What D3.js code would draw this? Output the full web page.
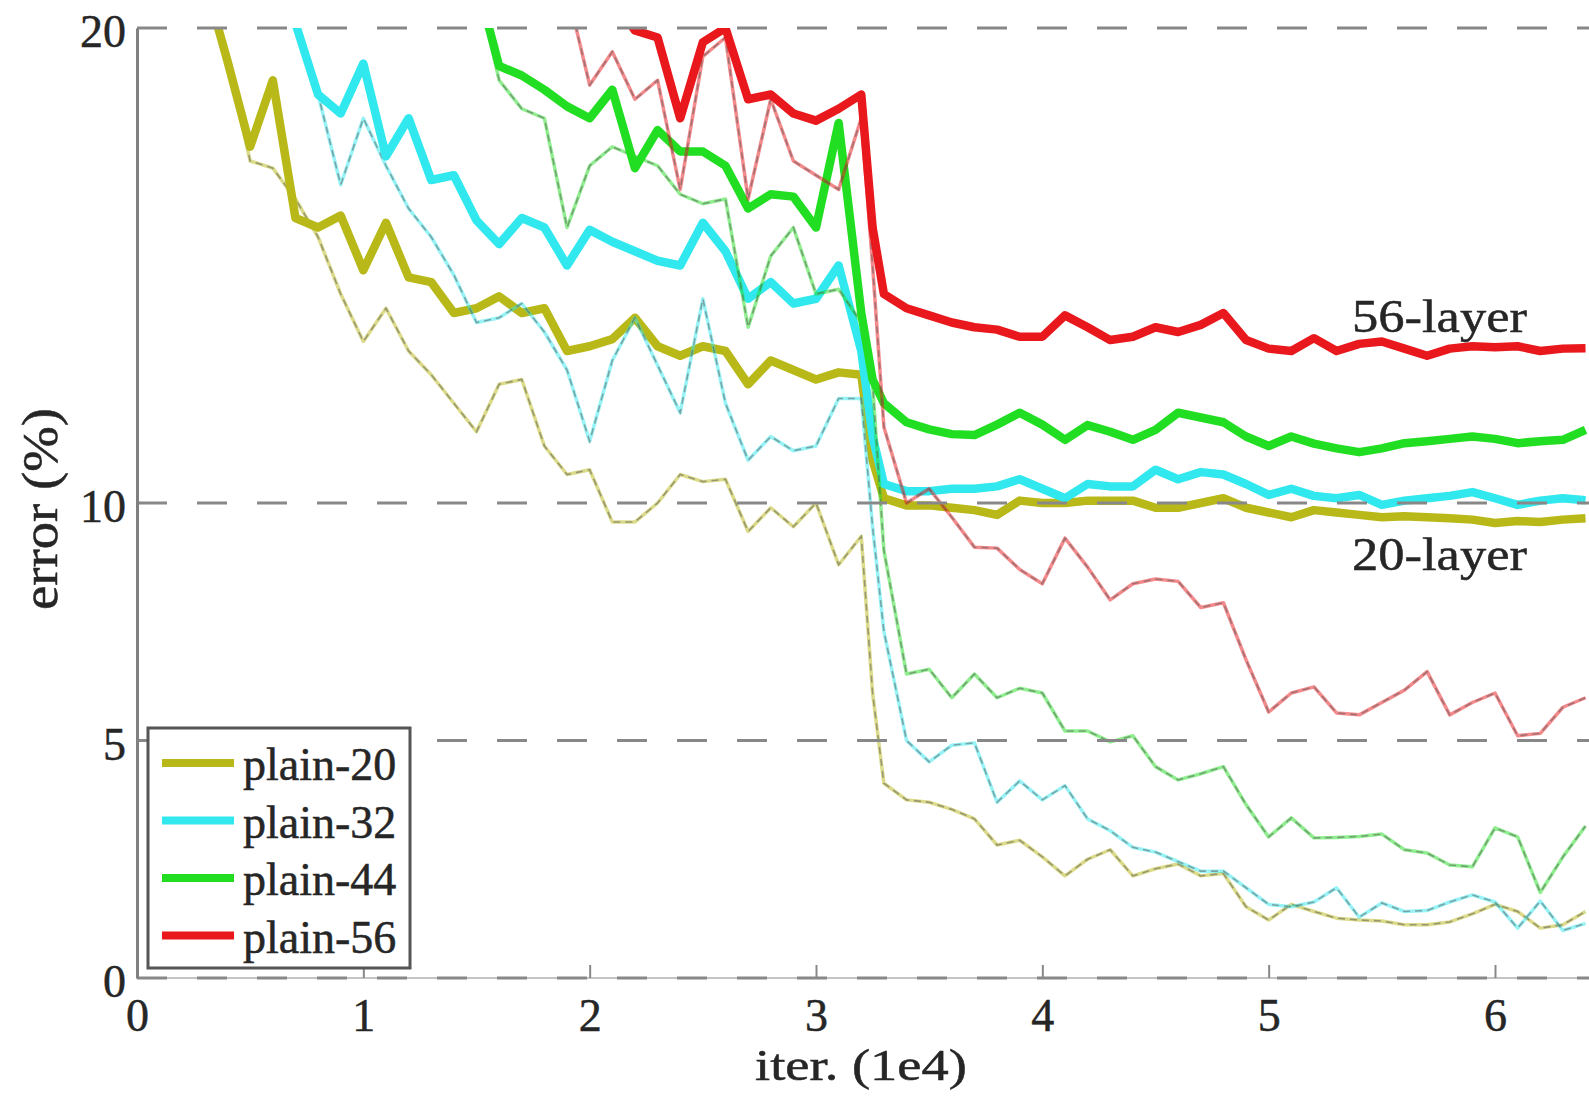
<!DOCTYPE html>
<html>
<head>
<meta charset="utf-8">
<script src="https://cdn.jsdelivr.net/npm/d3@7"></script>
<style>
  body { margin: 0; background: #fff; }
  text { font-family: "Liberation Serif", "Times New Roman", serif; fill: #262626; stroke: #262626; stroke-width: 0.5px; }
</style>
</head>
<body>
<div id="chart"></div>
<script>
// iterations, in units of 1e4
var iters = [
  0.3, 0.4, 0.5, 0.6, 0.7, 0.8, 0.9, 1.0, 1.1, 1.2,
  1.3, 1.4, 1.5, 1.6, 1.7, 1.8, 1.9, 2.0, 2.1, 2.2,
  2.3, 2.4, 2.5, 2.6, 2.7, 2.8, 2.9, 3.0, 3.1, 3.2,
  3.25,
  3.3, 3.4, 3.5, 3.6, 3.7, 3.8, 3.9, 4.0, 4.1, 4.2,
  4.3, 4.4, 4.5, 4.6, 4.7, 4.8, 4.9, 5.0, 5.1, 5.2,
  5.3, 5.4, 5.5, 5.6, 5.7, 5.8, 5.9, 6.0, 6.1, 6.2,
  6.3, 6.4
];

// bold lines: test error (%)
var plain20Test = [
  21.0, 19.3, 17.5, 18.9, 16.0, 15.8, 16.05, 14.9, 15.9, 14.75,
  14.65, 14.0, 14.1, 14.35, 14.0, 14.1, 13.2, 13.3, 13.45, 13.9,
  13.3, 13.1, 13.3, 13.2, 12.5, 13.0, 12.8, 12.6, 12.75, 12.7,
  10.9,
  10.1, 9.95, 9.95, 9.9, 9.85, 9.75, 10.05, 10.0, 10.0, 10.05,
  10.05, 10.05, 9.9, 9.9, 10.0, 10.1, 9.9, 9.8, 9.7, 9.85,
  9.8, 9.75, 9.7, 9.72, 9.7, 9.68, 9.65, 9.58, 9.62, 9.6,
  9.65, 9.68
];
var plain32Test = [
  null, null, null, null, 20.1, 18.6, 18.2, 19.25, 17.3, 18.1,
  16.8, 16.9, 15.95, 15.45, 16.0, 15.8, 15.0, 15.75, 15.5, 15.3,
  15.1, 15.0, 15.9, 15.3, 14.3, 14.65, 14.2, 14.3, 15.0, 13.2,
  11.4,
  10.4, 10.25, 10.25, 10.3, 10.3, 10.35, 10.5, 10.3, 10.1, 10.4,
  10.35, 10.35, 10.7, 10.5, 10.65, 10.6, 10.4, 10.17, 10.3, 10.15,
  10.1, 10.17, 9.96, 10.05, 10.1, 10.15, 10.23, 10.1, 9.96, 10.05,
  10.1, 10.06
];
var plain44Test = [
  null, null, null, null, null, null, null, null, null, null,
  null, null, 21.0, 19.2, 19.0, 18.7, 18.35, 18.1, 18.7, 17.05,
  17.85, 17.4, 17.4, 17.1, 16.2, 16.5, 16.45, 15.8, 18.0, 14.0,
  12.6,
  12.1, 11.7, 11.55, 11.45, 11.43, 11.65, 11.9, 11.65, 11.33, 11.64,
  11.5, 11.33, 11.54, 11.9, 11.8, 11.7, 11.4, 11.2, 11.4, 11.25,
  11.15, 11.07, 11.15, 11.26, 11.3, 11.35, 11.4, 11.35, 11.26, 11.3,
  11.33, 11.54
];
var plain56Test = [
  null, null, null, null, null, null, null, null, null, null,
  null, null, null, null, null, null, null, null, 20.6, 19.95,
  19.8, 18.1, 19.7, 20.0, 18.5, 18.6, 18.2, 18.05, 18.3, 18.6,
  15.8,
  14.4, 14.1, 13.95, 13.8, 13.7, 13.65, 13.5, 13.5, 13.95, 13.7,
  13.43, 13.5, 13.7, 13.6, 13.75, 14.0, 13.43, 13.25, 13.2, 13.47,
  13.2, 13.35, 13.4, 13.25, 13.1, 13.25, 13.3, 13.28, 13.3, 13.2,
  13.25, 13.26
];

// thin dashed lines: training error (%)
var plain20Train = [
  21.0, 19.3, 17.2, 17.05, 16.4, 15.6, 14.4, 13.4, 14.1, 13.2,
  12.7, 12.1, 11.5, 12.5, 12.6, 11.2, 10.6, 10.7, 9.6, 9.6,
  10.0, 10.6, 10.45, 10.5, 9.4, 9.9, 9.5, 10.0, 8.7, 9.3,
  6.0,
  4.1, 3.75, 3.7, 3.55, 3.35, 2.8, 2.9, 2.55, 2.15, 2.5,
  2.7, 2.15, 2.3, 2.4, 2.15, 2.2, 1.5, 1.22, 1.55, 1.4,
  1.26, 1.22, 1.2, 1.12, 1.12, 1.18, 1.35, 1.55, 1.4, 1.05,
  1.12, 1.4
];
var plain32Train = [
  null, null, null, null, 20.1, 18.6, 16.7, 18.1, 17.1, 16.2,
  15.6, 14.8, 13.8, 13.9, 14.2, 13.6, 12.8, 11.3, 13.0, 13.9,
  12.9, 11.9, 14.3, 12.1, 10.9, 11.4, 11.1, 11.2, 12.2, 12.2,
  9.5,
  7.3, 5.0, 4.55, 4.9, 4.95, 3.7, 4.15, 3.75, 4.05, 3.35,
  3.1, 2.75, 2.65, 2.45, 2.25, 2.25, 1.9, 1.55, 1.5, 1.6,
  1.9, 1.28, 1.58, 1.4, 1.42, 1.6, 1.75, 1.6, 1.05, 1.62,
  1.0, 1.15
];
var plain44Train = [
  null, null, null, null, null, null, null, null, null, null,
  null, null, 21.0, 18.9, 18.3, 18.1, 15.8, 17.1, 17.5, 17.3,
  17.1, 16.5, 16.3, 16.4, 13.7, 15.2, 15.8, 14.4, 14.5, 13.8,
  12.5,
  9.0, 6.4, 6.5, 5.9, 6.4, 5.9, 6.1, 6.0, 5.2, 5.2,
  4.97, 5.1, 4.45, 4.17, 4.3, 4.45, 3.65, 2.97, 3.37, 2.95,
  2.96, 2.98, 3.03, 2.7, 2.63, 2.38, 2.34, 3.16, 2.97, 1.8,
  2.55, 3.2
];
var plain56Train = [
  null, null, null, null, null, null, null, null, null, null,
  null, null, null, null, null, null, 20.8, 18.8, 19.5, 18.5,
  18.9, 16.6, 19.4, 19.8, 16.4, 18.5, 17.2, 16.9, 16.6, 18.1,
  15.0,
  11.6, 10.0, 10.3, 9.7, 9.07, 9.05, 8.6, 8.3, 9.26, 8.65,
  7.96, 8.3, 8.4, 8.35, 7.8, 7.9, 6.7, 5.6, 6.0, 6.13,
  5.58, 5.54, 5.8, 6.06, 6.45, 5.54, 5.8, 6.0, 5.1, 5.15,
  5.7, 5.9
];

var seriesNames = ['plain-20', 'plain-32', 'plain-44', 'plain-56'];
var seriesColors = ['#b8b818', '#30e8ee', '#22de22', '#e8181c'];
var xTicks = [0, 1, 2, 3, 4, 5, 6];
var yTicks = [0, 5, 10, 20];
var annotations = ['56-layer', '20-layer'];

var series = [
  { name: seriesNames[0], color: seriesColors[0], test: plain20Test, train: plain20Train },
  { name: seriesNames[1], color: seriesColors[1], test: plain32Test, train: plain32Train },
  { name: seriesNames[2], color: seriesColors[2], test: plain44Test, train: plain44Train },
  { name: seriesNames[3], color: seriesColors[3], test: plain56Test, train: plain56Train }
];

var width = 1589, height = 1098;

var x = d3.scaleLinear().domain([0, 6]).range([137, 1495]);
var y = d3.scaleLinear().domain([0, 20]).range([978, 28]);

var svg = d3.select('#chart')
  .append('svg')
  .attr('width', width)
  .attr('height', height);

svg.append('clipPath')
  .attr('id', 'plotClip')
  .append('rect')
  .attr('x', x(0))
  .attr('y', y(20))
  .attr('width', width - x(0))
  .attr('height', y(0) - y(20));

var line = d3.line()
  .defined(function(d) { return d[1] != null; })
  .x(function(d) { return x(d[0]); })
  .y(function(d) { return y(d[1]); });

function pairs(values) {
  return iters.map(function(t, i) { return [t, values[i]]; });
}

var gData = svg.append('g').attr('clip-path', 'url(#plotClip)');

series.forEach(function(s) {
  // training curve: thin colour line with dark dashes on it
  gData.append('path')
    .attr('d', line(pairs(s.train)))
    .attr('fill', 'none')
    .attr('stroke', s.color)
    .attr('stroke-opacity', 0.5)
    .attr('stroke-width', 3.5)
    .attr('stroke-linejoin', 'round');
  gData.append('path')
    .attr('d', line(pairs(s.train)))
    .attr('fill', 'none')
    .attr('stroke', '#555')
    .attr('stroke-opacity', 0.5)
    .attr('stroke-width', 1.6)
    .attr('stroke-dasharray', '7,5');

  // test curve: bold
  gData.append('path')
    .attr('d', line(pairs(s.test)))
    .attr('fill', 'none')
    .attr('stroke', s.color)
    .attr('stroke-width', 8.5)
    .attr('stroke-linejoin', 'round');
});

// grid (drawn over the curves, like the original)
svg.append('line')
  .attr('x1', x(0)).attr('x2', width)
  .attr('y1', y(0)).attr('y2', y(0))
  .attr('stroke', '#c4c4c4')
  .attr('stroke-width', 2);

svg.selectAll('.grid')
  .data(yTicks)
  .enter()
  .append('line')
  .attr('class', 'grid')
  .attr('x1', x(0)).attr('x2', width)
  .attr('y1', function(d) { return y(d); })
  .attr('y2', function(d) { return y(d); })
  .attr('stroke', '#888')
  .attr('stroke-width', 3)
  .attr('stroke-dasharray', '30,30');

// x axis
var xAxis = d3.axisBottom(x)
  .tickValues(xTicks)
  .tickFormat(d3.format('d'))
  .tickSize(-13)
  .tickSizeOuter(0)
  .tickPadding(20);

var gx = svg.append('g')
  .attr('transform', 'translate(0,' + y(0) + ')')
  .call(xAxis);
gx.select('.domain').remove();
gx.selectAll('.tick line').attr('stroke', '#888').attr('stroke-width', 2);
gx.selectAll('.tick text').style('font-size', '46px').attr('fill', '#262626');

// y axis
var yAxis = d3.axisLeft(y)
  .tickValues(yTicks)
  .tickFormat(d3.format('d'))
  .tickSize(0)
  .tickSizeOuter(0)
  .tickPadding(11);

var gy = svg.append('g')
  .attr('transform', 'translate(' + x(0) + ',0)')
  .call(yAxis);
gy.select('.domain').attr('stroke', '#808080').attr('stroke-width', 3);
gy.selectAll('.tick text')
  .style('font-size', '46px')
  .attr('fill', '#262626')
  .attr('transform', 'translate(0,4)');

// axis titles
svg.append('text')
  .attr('x', 861)
  .attr('y', 1080)
  .attr('text-anchor', 'middle')
  .attr('textLength', 212)
  .attr('lengthAdjust', 'spacingAndGlyphs')
  .style('font-size', '45px')
  .text('iter. (1e4)');

svg.append('text')
  .attr('transform', 'translate(57,509) rotate(-90)')
  .attr('text-anchor', 'middle')
  .attr('textLength', 202)
  .attr('lengthAdjust', 'spacingAndGlyphs')
  .style('font-size', '50px')
  .text('error (%)');

// curve annotations
svg.selectAll('.note')
  .data(annotations)
  .enter()
  .append('text')
  .attr('class', 'note')
  .attr('x', 1352)
  .attr('y', function(d, i) { return i == 0 ? 332 : 570; })
  .attr('textLength', 175)
  .attr('lengthAdjust', 'spacingAndGlyphs')
  .style('font-size', '47px')
  .text(function(d) { return d; });

// legend
var legend = svg.append('g');
legend.append('rect')
  .attr('x', 148).attr('y', 728)
  .attr('width', 262).attr('height', 240)
  .attr('fill', '#fff')
  .attr('stroke', '#555')
  .attr('stroke-width', 3);

var items = legend.selectAll('.item')
  .data(series)
  .enter()
  .append('g')
  .attr('class', 'item')
  .attr('transform', function(d, i) { return 'translate(0,' + (763 + i * 57.5) + ')'; });

items.append('line')
  .attr('x1', 162).attr('x2', 234)
  .attr('y1', 0).attr('y2', 0)
  .attr('stroke', function(d) { return d.color; })
  .attr('stroke-width', 8);

items.append('text')
  .attr('x', 243)
  .attr('y', 17)
  .style('font-size', '46px')
  .text(function(d) { return d.name; });
</script>
</body>
</html>
